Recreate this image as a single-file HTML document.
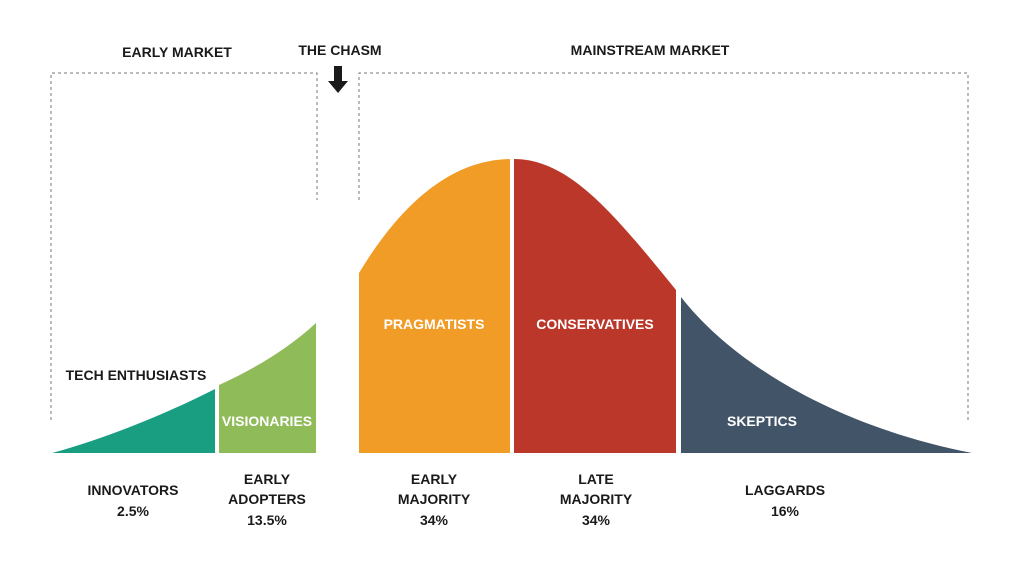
<!DOCTYPE html>
<html><head><meta charset="utf-8"><style>
html,body{margin:0;padding:0;background:#fff;}
svg{display:block;font-family:"Liberation Sans",sans-serif;font-weight:bold;}
</style></head><body>
<svg width="1024" height="573" viewBox="0 0 1024 573" xmlns="http://www.w3.org/2000/svg">
<g fill="none" stroke="#777" stroke-width="1" stroke-dasharray="3,3">
<polyline points="51,420 51,73 317,73 317,200"/>
<polyline points="359,200 359,73 968,73 968,420"/>
</g>
<path d="M334,66 h8 v15 h6 l-10,12 l-10,-12 h6 z" fill="#1a1a1a"/>
<path d="M52,453 C110,437 170,412 215,389 L215,453 Z" fill="#1a9e82"/>
<path d="M219,385 C250,371 287,350 316,323 L316,453 L219,453 Z" fill="#8fbb59"/>
<path d="M359,273 C400,205 450,160 510,159 L510,453 L359,453 Z" fill="#f19c26"/>
<path d="M514,159 C570,159 615,215 676,290 L676,453 L514,453 Z" fill="#bb372a"/>
<path d="M681,297 C730,360 830,425 972,453 L681,453 Z" fill="#415468"/>
<g font-size="14" fill="#1a1a1a" text-anchor="middle">
<text x="177" y="57">EARLY MARKET</text>
<text x="340" y="55">THE CHASM</text>
<text x="650" y="55">MAINSTREAM MARKET</text>
<text x="136" y="380">TECH ENTHUSIASTS</text>
<text x="133" y="495">INNOVATORS</text><text x="133" y="516">2.5%</text>
<text x="267" y="484">EARLY</text><text x="267" y="504">ADOPTERS</text><text x="267" y="525">13.5%</text>
<text x="434" y="484">EARLY</text><text x="434" y="504">MAJORITY</text><text x="434" y="525">34%</text>
<text x="596" y="484">LATE</text><text x="596" y="504">MAJORITY</text><text x="596" y="525">34%</text>
<text x="785" y="495">LAGGARDS</text><text x="785" y="516">16%</text>
</g>
<g font-size="14" fill="#fff" text-anchor="middle">
<text x="267" y="426">VISIONARIES</text>
<text x="434" y="329">PRAGMATISTS</text>
<text x="595" y="329">CONSERVATIVES</text>
<text x="762" y="426">SKEPTICS</text>
</g>
</svg>
</body></html>
